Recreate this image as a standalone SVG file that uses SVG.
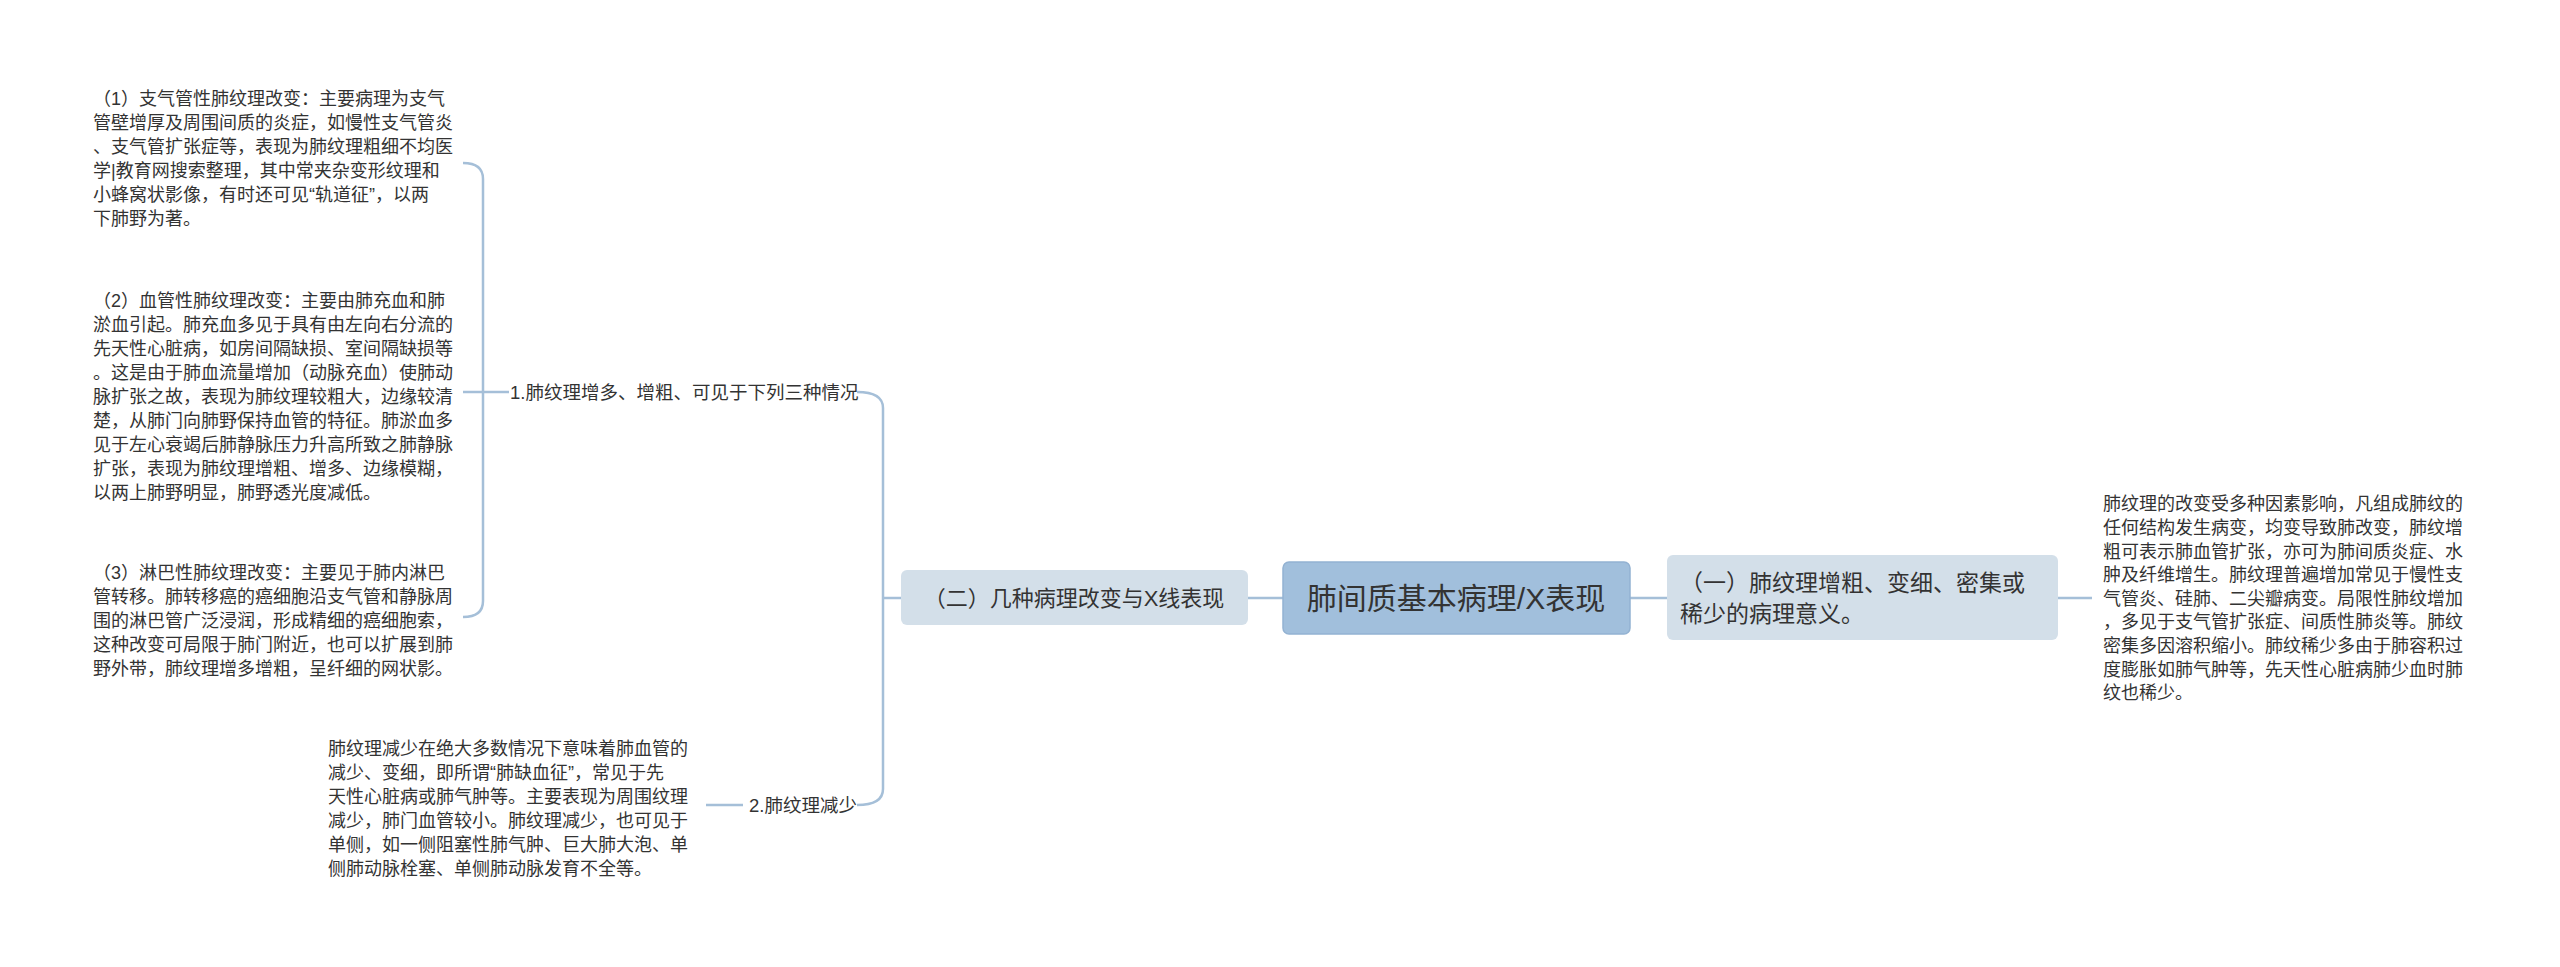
<svg xmlns="http://www.w3.org/2000/svg" width="2560" height="967" viewBox="0 0 2560 967">
<style>
text{font-family:"Liberation Sans","Noto Sans CJK SC",sans-serif;fill:#333}
.leaf{font-size:18px}
.lbl{font-size:18.5px}
.c{fill:none;stroke:#a5bfd8;stroke-width:2.5}
</style>
<rect width="2560" height="967" fill="#fff"/>
<g id="connectors">
<path class="c" d="M1630 598H1667"/>
<path class="c" d="M1283 598H1248"/>
<path class="c" d="M2058 598H2092"/>
<path class="c" d="M901 598H883"/>
<path class="c" d="M857 392Q883 392 883 408V789Q883 805 857 805"/>
<path class="c" d="M509 392H483"/>
<path class="c" d="M463 163Q483 163 483 179V601Q483 617 463 617"/>
<path class="c" d="M463 392H483"/>
<path class="c" d="M743 805H706"/>
</g>
<g id="root">
<rect x="1283" y="562" width="347" height="72" rx="6" fill="#a1bfdc" stroke="#93b2d2" stroke-width="1.5"/>
<text x="1456" y="609" font-size="30" text-anchor="middle">肺间质基本病理/X表现</text>
</g>
<g id="n1">
<rect x="1667" y="555" width="391" height="85" rx="6" fill="#d3dfe9"/>
<text font-size="23"><tspan x="1680" y="591">（一）肺纹理增粗、变细、密集或</tspan><tspan x="1680" y="622">稀少的病理意义。</tspan></text>
</g>
<g id="n1leaf">
<text class="leaf"><tspan x="2103" y="510">肺纹理的改变受多种因素影响，凡组成肺纹的</tspan><tspan x="2103" y="534">任何结构发生病变，均变导致肺改变，肺纹增</tspan><tspan x="2103" y="558">粗可表示肺血管扩张，亦可为肺间质炎症、水</tspan><tspan x="2103" y="581">肿及纤维增生。肺纹理普遍增加常见于慢性支</tspan><tspan x="2103" y="605">气管炎、硅肺、二尖瓣病变。局限性肺纹增加</tspan><tspan x="2103" y="628">，多见于支气管扩张症、间质性肺炎等。肺纹</tspan><tspan x="2103" y="652">密集多因溶积缩小。肺纹稀少多由于肺容积过</tspan><tspan x="2103" y="676">度膨胀如肺气肿等，先天性心脏病肺少血时肺</tspan><tspan x="2103" y="699">纹也稀少。</tspan></text>
</g>
<g id="n2">
<rect x="901" y="570" width="347" height="55" rx="6" fill="#d3dfe9"/>
<text x="1074" y="606" font-size="22" text-anchor="middle">（二）几种病理改变与X线表现</text>
</g>
<g id="b1">
<text class="lbl" x="510" y="399">1.肺纹理增多、增粗、可见于下列三种情况</text>
</g>
<g id="b2">
<text class="lbl" x="749" y="812">2.肺纹理减少</text>
</g>
<g id="item1">
<text class="leaf"><tspan x="93" y="105">（1）支气管性肺纹理改变：主要病理为支气</tspan><tspan x="93" y="129">管壁增厚及周围间质的炎症，如慢性支气管炎</tspan><tspan x="93" y="153">、支气管扩张症等，表现为肺纹理粗细不均医</tspan><tspan x="93" y="177">学|教育网搜索整理，其中常夹杂变形纹理和</tspan><tspan x="93" y="201">小蜂窝状影像，有时还可见“轨道征”，以两</tspan><tspan x="93" y="225">下肺野为著。</tspan></text>
</g>
<g id="item2">
<text class="leaf"><tspan x="93" y="307">（2）血管性肺纹理改变：主要由肺充血和肺</tspan><tspan x="93" y="331">淤血引起。肺充血多见于具有由左向右分流的</tspan><tspan x="93" y="355">先天性心脏病，如房间隔缺损、室间隔缺损等</tspan><tspan x="93" y="379">。这是由于肺血流量增加（动脉充血）使肺动</tspan><tspan x="93" y="403">脉扩张之故，表现为肺纹理较粗大，边缘较清</tspan><tspan x="93" y="427">楚，从肺门向肺野保持血管的特征。肺淤血多</tspan><tspan x="93" y="451">见于左心衰竭后肺静脉压力升高所致之肺静脉</tspan><tspan x="93" y="475">扩张，表现为肺纹理增粗、增多、边缘模糊，</tspan><tspan x="93" y="499">以两上肺野明显，肺野透光度减低。</tspan></text>
</g>
<g id="item3">
<text class="leaf"><tspan x="93" y="579">（3）淋巴性肺纹理改变：主要见于肺内淋巴</tspan><tspan x="93" y="603">管转移。肺转移癌的癌细胞沿支气管和静脉周</tspan><tspan x="93" y="627">围的淋巴管广泛浸润，形成精细的癌细胞索，</tspan><tspan x="93" y="651">这种改变可局限于肺门附近，也可以扩展到肺</tspan><tspan x="93" y="675">野外带，肺纹理增多增粗，呈纤细的网状影。</tspan></text>
</g>
<g id="b2leaf">
<text class="leaf"><tspan x="328" y="755">肺纹理减少在绝大多数情况下意味着肺血管的</tspan><tspan x="328" y="779">减少、变细，即所谓“肺缺血征”，常见于先</tspan><tspan x="328" y="803">天性心脏病或肺气肿等。主要表现为周围纹理</tspan><tspan x="328" y="827">减少，肺门血管较小。肺纹理减少，也可见于</tspan><tspan x="328" y="851">单侧，如一侧阻塞性肺气肿、巨大肺大泡、单</tspan><tspan x="328" y="875">侧肺动脉栓塞、单侧肺动脉发育不全等。</tspan></text>
</g>
</svg>
